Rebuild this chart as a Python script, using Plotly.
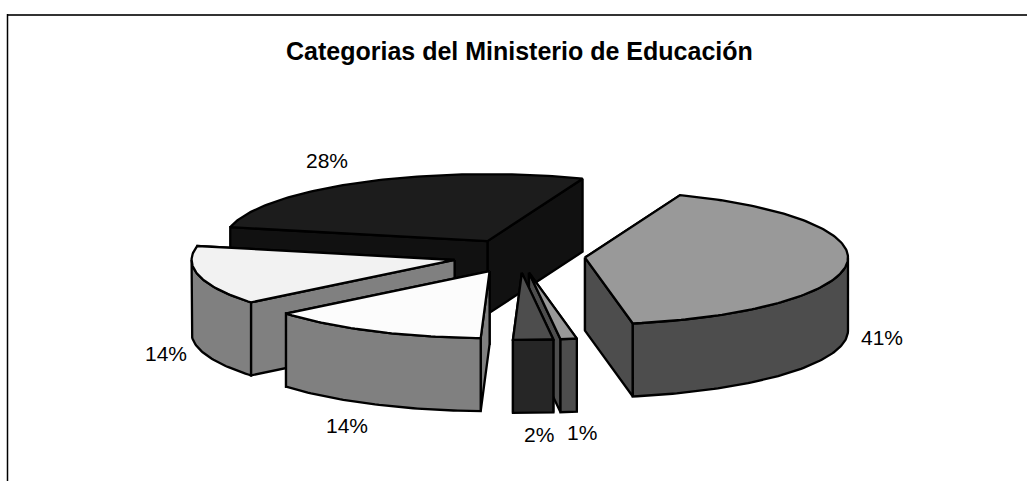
import math
import plotly.graph_objects as go

# Survey shares in percent, clockwise from the first slice
categories = ["A", "B", "C", "D", "E", "F"]
shares = [41.2, 1.0, 2.45, 13.55, 14.25, 27.55]
title_text = "Categorias del Ministerio de Educación"

# Fill colours for each slice
top_colors = ["#999999", "#999999", "#4d4d4d", "#fcfcfc", "#f2f2f2", "#1c1c1c"]
side_colors = ["#4d4d4d", "#4d4d4d", "#262626", "#808080", "#808080", "#111111"]

# Projection of the tilted pie onto the page
CX, CY = 519, 256
RX, RY = 263, 67
DEPTH = 73
EXPLODE = 0.252
START_ANGLE = 21.2
LINE = dict(color="#000000", width=2.3)
label_nudge = [(35, 1), (13, 21), (6, 22), (-26, 21), (-33, 5), (-35, -22)]
draw_order = [5, 4, 3, 1, 2, 0]


def on_rim(ox, oy, deg):
    a = math.radians(deg)
    return ox + RX * math.sin(a), oy - RY * math.cos(a)


fig = go.Figure()


def add_poly(pts, fill):
    xs = [p[0] for p in pts] + [pts[0][0]]
    ys = [p[1] for p in pts] + [pts[0][1]]
    fig.add_trace(go.Scatter(x=xs, y=ys, mode="lines", fill="toself", fillcolor=fill,
                             line=LINE, hoverinfo="skip", showlegend=False))


def arc(ox, oy, a0, a1):
    n = max(2, int(abs(a1 - a0)) + 2)
    return [on_rim(ox, oy, a0 + (a1 - a0) * i / (n - 1)) for i in range(n)]


total = sum(shares)
spans = []
angle = START_ANGLE
for s in shares:
    sweep = 360 * s / total
    spans.append((angle, angle + sweep))
    angle += sweep

annotations = []
for idx in draw_order:
    a0, a1 = spans[idx]
    mid = (a0 + a1) / 2
    ox, oy = on_rim(CX, CY, mid)
    ox = CX + (ox - CX) * EXPLODE
    oy = CY + (oy - CY) * EXPLODE

    # Radial cut walls, the ones further back first
    walls = []
    for a in (a0, a1):
        rim = on_rim(ox, oy, a)
        walls.append([(ox, oy), rim, (rim[0], rim[1] + DEPTH), (ox, oy + DEPTH)])
    walls.sort(key=lambda w: w[1][1])
    for w in walls:
        add_poly(w, side_colors[idx])

    # Outer curved wall on the front half of the ellipse
    lo, hi = max(a0, 90), min(a1, 270)
    if hi > lo:
        edge = arc(ox, oy, lo, hi)
        add_poly(edge + [(x, y + DEPTH) for x, y in reversed(edge)], side_colors[idx])

    # Top face
    add_poly([(ox, oy)] + arc(ox, oy, a0, a1), top_colors[idx])

    lx, ly = on_rim(ox, oy, mid)
    if 90 < mid % 360 < 270:
        ly += DEPTH
    annotations.append(dict(x=lx + label_nudge[idx][0], y=ly + label_nudge[idx][1],
                            text=f"{shares[idx]:.0f}%", showarrow=False,
                            font=dict(size=21, color="#000000")))

annotations.append(dict(x=519, y=51, text="<b>%s</b>" % title_text, showarrow=False,
                        font=dict(size=25, color="#000000")))

fig.update_layout(
    width=1027, height=481, margin=dict(l=0, r=0, t=0, b=0),
    paper_bgcolor="#ffffff", plot_bgcolor="#ffffff",
    font=dict(family="Liberation Sans"),
    xaxis=dict(range=[0, 1027], visible=False, fixedrange=True),
    yaxis=dict(range=[481, 0], visible=False, fixedrange=True),
    annotations=annotations,
    shapes=[
        dict(type="line", xref="x", yref="y", x0=7, x1=1027, y0=15, y1=15,
             line=dict(color="#333333", width=2)),
        dict(type="line", xref="x", yref="y", x0=7.5, x1=7.5, y0=14, y1=481,
             line=dict(color="#000000", width=1.5)),
    ],
)

fig.write_html("out.html", config=dict(displayModeBar=False))
